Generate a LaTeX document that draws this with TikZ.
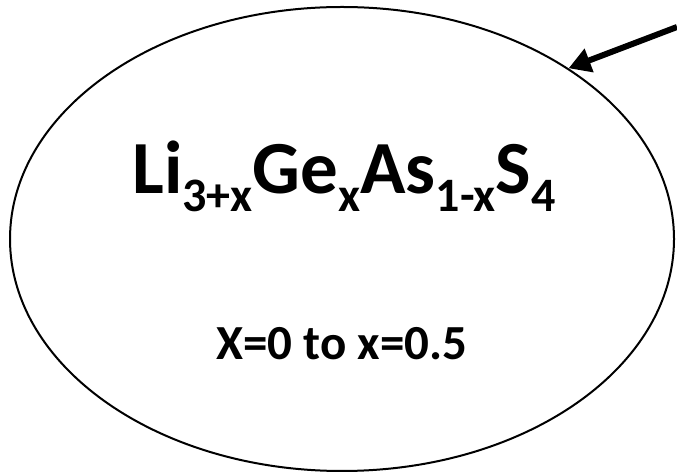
\documentclass[tikz,border=0pt]{standalone}
\usepackage{fontspec}
\setmainfont{Carlito}
\usetikzlibrary{shapes.geometric,arrows.meta}

% lowered, smaller index for the formula
\newcommand{\lowsub}[1]{\raisebox{-18pt}{\fontsize{48}{48}\selectfont #1}}

\begin{document}
\begin{tikzpicture}[x=1pt,y=1pt,
    sample/.style={ellipse, draw, line width=2pt, minimum width=664pt, minimum height=464pt, inner sep=0pt},
    pointer/.style={-{Triangle[length=22pt,width=24pt]}, line width=6pt},
    label/.style={anchor=base, inner sep=0pt}]
    \useasboundingbox (0,0) rectangle (677,476);

    % the ellipse with the composition inside
    \node[sample] (sample) at (342,237) {};
    \node[label, font=\fontsize{75}{75}\selectfont\bfseries] (formula) at (344,282)
        {Li\lowsub{3+x}Ge\lowsub{x}As\lowsub{1-x}S\lowsub{4}};
    \node[label, font=\fontsize{49}{49}\selectfont\bfseries] (range) at (342,116) {X=0 to x=0.5};

    % arrow coming in from the right edge
    \coordinate (src) at (677,449);
    \draw[pointer] (src) -- (sample.37);
\end{tikzpicture}
\end{document}
